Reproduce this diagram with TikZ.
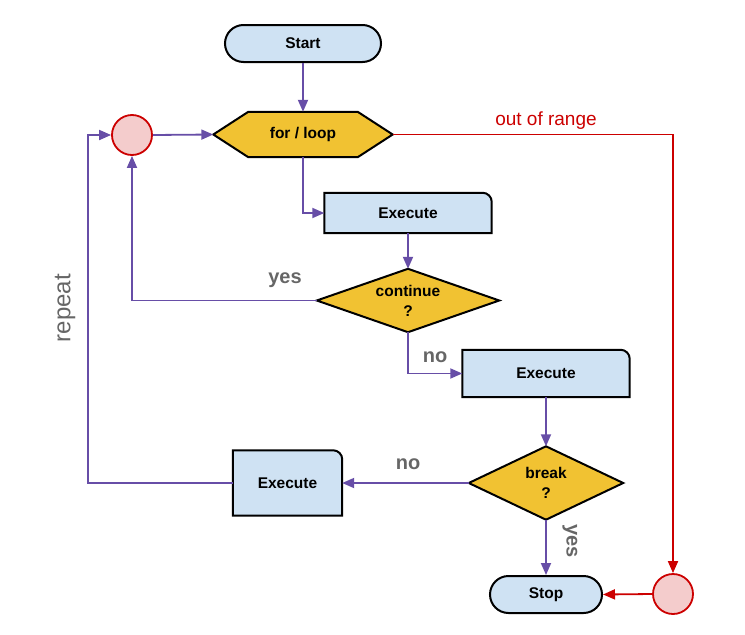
\documentclass[tikz,border=0pt]{standalone}
\usepackage{fontspec}
\setmainfont{Liberation Sans}
\usetikzlibrary{arrows.meta}
\definecolor{boxblue}{HTML}{CFE2F3}
\definecolor{boxyellow}{HTML}{F1C232}
\definecolor{boxpink}{HTML}{F4CCCC}
\definecolor{linered}{HTML}{CC0000}
\definecolor{linepurple}{HTML}{674EA7}
\definecolor{labelgray}{HTML}{666666}
\tikzset{
  nodetext/.style={font=\fontsize{15.5}{18}\selectfont\bfseries, align=center, text=black},
  outline/.style={draw=black, line width=2pt},
  term/.style={nodetext, outline, fill=boxblue, rounded corners=18.5pt, minimum width=156pt, minimum height=37pt, inner sep=0pt},
  anchorbox/.style={nodetext, draw=none, inner sep=0pt},
  conn/.style={draw=linepurple, line width=1.8pt, -{Triangle[length=12pt,width=10pt]}},
  redconn/.style={draw=linered, line width=1.8pt, -{Triangle[length=12pt,width=10pt]}},
  junction/.style={circle, draw=linered, line width=1.8pt, fill=boxpink, minimum size=40pt, inner sep=0pt},
  glabel/.style={font=\fontsize{20}{24}\selectfont\bfseries, text=labelgray},
}
\newcommand{\execshape}[1]{%
  \filldraw[outline, fill=boxblue] (#1.south west) -- (#1.north west) -- ([xshift=-9pt]#1.north east)
    arc[start angle=90, end angle=0, radius=9pt] -- (#1.south east) -- cycle;}
\newcommand{\diashape}[1]{%
  \filldraw[outline, fill=boxyellow, line join=miter] (#1.west) -- (#1.north) -- (#1.east) -- (#1.south) -- cycle;}
\begin{document}
\begin{tikzpicture}[x=1pt,y=-1pt]
\useasboundingbox (0,0) rectangle (745,635);

% nodes
\node[term] (start) at (303,43.5) {Start};
\node[anchorbox, minimum width=179pt, minimum height=45pt] (loop) at (303,134.5) {};
\filldraw[outline, fill=boxyellow, line join=miter] (loop.west) -- ([xshift=35pt]loop.north west) -- ([xshift=-35pt]loop.north east)
  -- (loop.east) -- ([xshift=-35pt]loop.south east) -- ([xshift=35pt]loop.south west) -- cycle;
\node[nodetext] at (loop.center) {for / loop};

\node[junction] (lc) at (132,135) {};
\node[junction] (rc) at (673,594) {};

\node[anchorbox, minimum width=167pt, minimum height=40pt] (ex1) at (408,213) {};
\execshape{ex1}
\node[nodetext] at (ex1.center) {Execute};

\node[anchorbox, minimum width=182pt, minimum height=63pt] (cont) at (408,300.5) {};
\diashape{cont}
\node[nodetext, font=\fontsize{15.5}{20}\selectfont\bfseries] at (cont.center) {continue\\?};

\node[anchorbox, minimum width=167pt, minimum height=47pt] (ex2) at (546,373.5) {};
\execshape{ex2}
\node[nodetext] at (ex2.center) {Execute};

\node[anchorbox, minimum width=154pt, minimum height=73pt] (brk) at (546,483) {};
\diashape{brk}
\node[nodetext, font=\fontsize{15.5}{20}\selectfont\bfseries] at (brk.center) {break\\?};

\node[anchorbox, minimum width=109pt, minimum height=65pt] (ex3) at (287.5,483) {};
\execshape{ex3}
\node[nodetext] at (ex3.center) {Execute};

\node[term, minimum width=112pt] (stop) at (546,594.5) {Stop};

% connectors
\draw[conn] (start.south) -- (loop.north);
\draw[conn] (lc.east) -- (loop.west);
\draw[redconn] (loop.east) -| (rc.north);
\draw[conn] (loop.south) |- (ex1.west);
\draw[conn] (ex1.south) -- (cont.north);
\draw[conn] (cont.west) -| (lc.south);
\draw[conn] (cont.south) |- (ex2.west);
\draw[conn] (ex2.south) -- (brk.north);
\draw[conn] (brk.west) -- (ex3.east);
\coordinate (rb) at (88,483);
\coordinate (rt) at (88,135);
\draw[conn] (ex3.west) -- (rb) -- (rt) -- (lc.west);
\draw[conn] (brk.south) -- (stop.north);
\draw[redconn] (rc.west) -- (stop.east);

% labels
\node[font=\fontsize{19}{22}\selectfont, text=linered] (lor) at (546,121) {out of range};
\node[glabel] (lyes1) at (285,280) {yes};
\node[glabel] (lno1) at (435,357) {no};
\node[glabel] (lno2) at (408,464) {no};
\node[glabel, rotate=-90] (lyes2) at (570,541) {yes};
\node[font=\fontsize{24}{28}\selectfont, text=labelgray, rotate=90] (lrep) at (65,308) {repeat};
\end{tikzpicture}
\end{document}
